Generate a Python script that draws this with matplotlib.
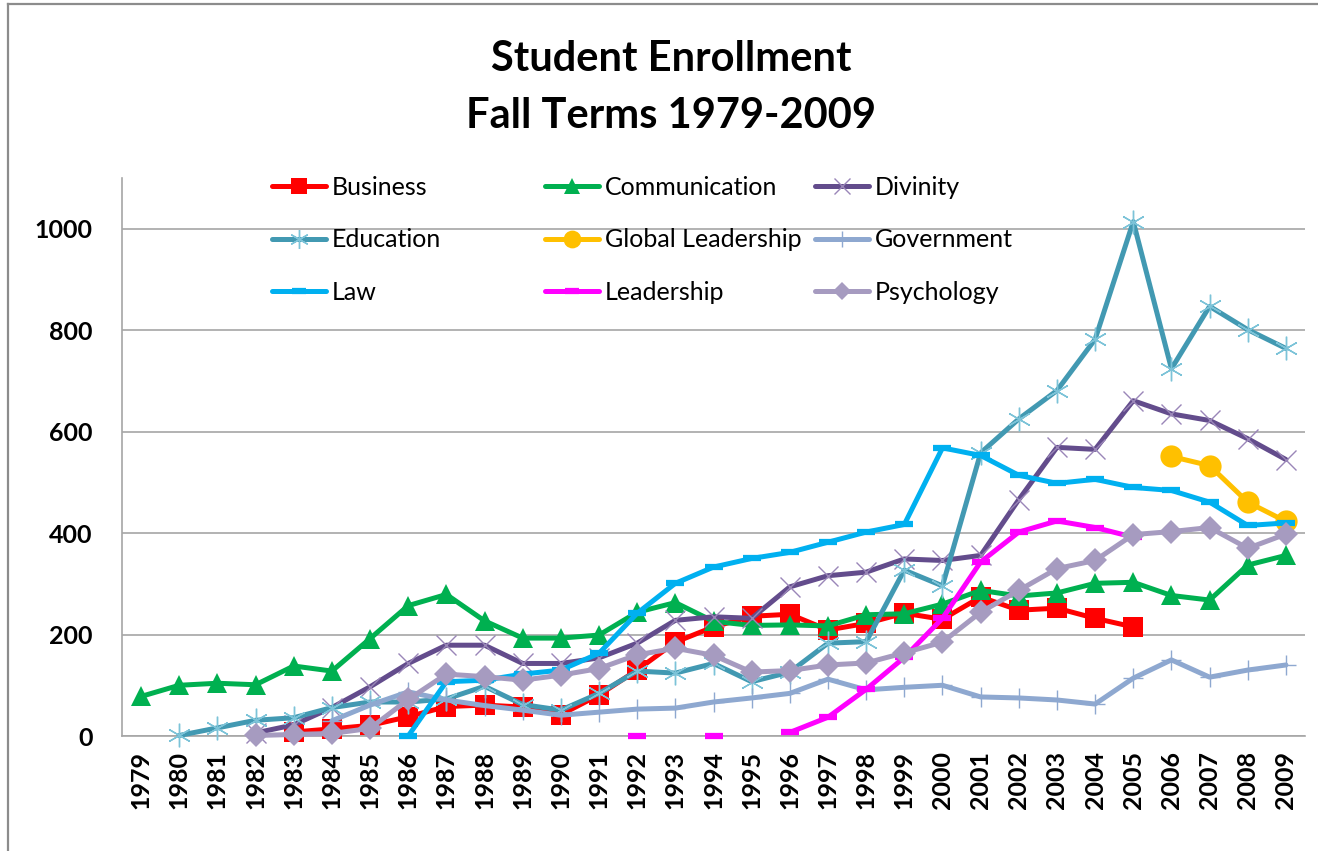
import numpy as np
import matplotlib
matplotlib.use("Agg")
import matplotlib.pyplot as plt
from matplotlib.lines import Line2D

nan = np.nan
years = list(range(1979, 2010))

business = [nan, nan, nan, nan, 8, 14, 21, 38, 58, 61, 57, 42, 81, 130, 185, 215, 236, 240,
            209, 222, 242, 230, 274, 248, 252, 232, 215, nan, nan, nan, nan]
communication = [78, 100, 104, 101, 138, 128, 192, 257, 279, 227, 193, 193, 199, 244, 263, 226,
                 218, 219, 217, 239, 241, 260, 287, 276, 282, 301, 303, 277, 268, 337, 356]
divinity = [nan, nan, nan, 6, 22, 56, 97, 143, 179, 179, 143, 143, 154, 183, 228, 235, 232, 294,
            316, 323, 349, 346, 356, 466, 569, 565, 661, 635, 622, 586, 545]
education = [nan, 1, 16, 31, 36, 56, 67, 67, 73, 98, 62, 51, 84, 128, 124, 143, 107, 126, 183,
             186, 327, 296, 558, 625, 681, 782, 1014, 724, 847, 801, 764]
global_leadership = [nan] * 27 + [551, 533, 461, 423]
government = [nan, nan, nan, nan, nan, 30, 61, 87, 71, 60, 51, 41, 47, 53, 55, 67, 75, 84, 112,
              91, 96, 100, 77, 75, 71, 63, 114, 150, 116, 130, 140]
law = [nan] * 7 + [0, 107, 110, 122, 130, 163, 242, 301, 333, 350, 362, 382, 402, 417, 568, 553,
                   514, 498, 506, 490, 484, 461, 415, 420]
leadership = [nan] * 13 + [0, nan, 0, nan, 7, 37, 92, 155, 232, 343, 402, 424, 411, 392,
                           nan, nan, nan, nan]
psychology = [nan, nan, nan, 1, 3, 5, 15, 72, 122, 117, 110, 120, 133, 160, 173, 159, 126, 129,
              140, 144, 164, 185, 244, 287, 330, 346, 397, 403, 411, 370, 398]

series_names = ["Business", "Communication", "Divinity", "Education", "Global Leadership",
                "Government", "Law", "Leadership", "Psychology"]
series_values = [business, communication, divinity, education, global_leadership,
                 government, law, leadership, psychology]

plt.rcParams['font.family'] = ['Lato', 'DejaVu Sans']

W, H = 1318, 851
fig = plt.figure(figsize=(W / 100, H / 100), dpi=100)
fig.patch.set_facecolor('white')

# outer chart border
fig.add_artist(Line2D([7.5 / W, 7.5 / W], [0, 1 - 3.5 / H], transform=fig.transFigure,
                      color='#8c8c8c', lw=1.6))
fig.add_artist(Line2D([7.5 / W, 1], [1 - 3.5 / H, 1 - 3.5 / H], transform=fig.transFigure,
                      color='#8c8c8c', lw=1.6))

ax = fig.add_axes([122 / W, (H - 736) / H, 1183 / W, 558 / H])
x = np.arange(len(years))

styles = {
    "Business": dict(color='#FF0000', marker='s', ms=14, mfc='#FF0000', mec='#FF0000', mew=0),
    "Communication": dict(color='#00B050', marker='^', ms=15, mfc='#00B050', mec='#00B050', mew=0),
    "Divinity": dict(color='#634C8C', marker='x', ms=14, mfc='none', mec='#9A86B8', mew=1.0),
    "Education": dict(color='#4299B2', marker=(6, 2, 0), ms=17, mec='#7CC3D8', mew=1.0),
    "Global Leadership": dict(color='#FFC000', marker='o', ms=16, mfc='#FFC000', mec='#FFC000', mew=0),
    "Government": dict(color='#8EA8D0', marker='+', ms=14, mec='#8EA8D0', mew=1.0),
    "Law": dict(color='#00B0F0', marker='_', ms=13, mec='#00B0F0', mew=4.5),
    "Leadership": dict(color='#FF00FF', marker='_', ms=13, mec='#FF00FF', mew=4.5),
    "Psychology": dict(color='#A69BC0', marker='D', ms=12, mfc='#A69BC0', mec='#A69BC0', mew=0),
}

handles = {}
for z, (name, vals) in enumerate(zip(series_names, series_values)):
    st = styles[name]
    ln, = ax.plot(x, np.array(vals, dtype=float), lw=3.6, solid_joinstyle='round',
                  solid_capstyle='round', label=name, zorder=3 + z, clip_on=False, **st)
    handles[name] = ln

ax.set_xlim(-0.5, len(years) - 0.5)
ax.set_ylim(0, 1100)
ax.set_yticks([0, 200, 400, 600, 800, 1000])
ax.set_xticks(x)
ax.set_xticklabels([str(y) for y in years], rotation=90, fontsize=18, fontweight='bold')
ax.tick_params(axis='x', length=0, pad=11)
ax.tick_params(axis='y', length=0, pad=21, labelsize=18)
for lab in ax.get_yticklabels():
    lab.set_fontweight('bold')
ax.grid(axis='y', color='#A6A6A6', lw=1.2)
ax.set_axisbelow(True)
for s in ['top', 'right']:
    ax.spines[s].set_visible(False)
for s in ['left', 'bottom']:
    ax.spines[s].set_color('#A6A6A6')
    ax.spines[s].set_linewidth(1.2)

# legend in three fixed-width columns
cols = [["Business", "Education", "Law"],
        ["Communication", "Global Leadership", "Leadership"],
        ["Divinity", "Government", "Psychology"]]
col_x = [272, 545, 815]
for i, (names, cx) in enumerate(zip(cols, col_x)):
    leg = fig.legend([handles[n] for n in names], names, loc='upper left',
                     bbox_to_anchor=(cx / W, 1 - 176 / H), frameon=False,
                     fontsize=18, handlelength=2.15, handletextpad=0.25, labelspacing=1.17,
                     borderpad=0, borderaxespad=0, markerscale=0.8)

fig.text(671 / W, 1 - 59 / H, "Student Enrollment", ha='center', va='center',
         fontsize=30, fontweight='bold')
fig.text(671 / W, 1 - 116 / H, "Fall Terms 1979-2009", ha='center', va='center',
         fontsize=30, fontweight='bold')

fig.savefig("out.png", dpi=100, facecolor='white')
